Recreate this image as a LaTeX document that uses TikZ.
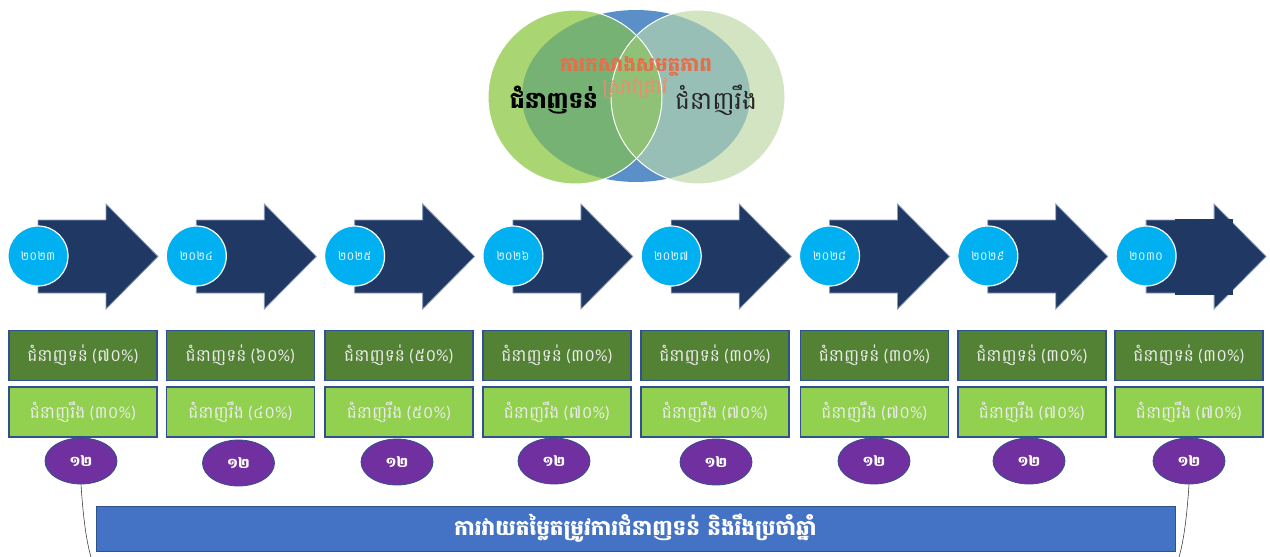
\documentclass[tikz,border=0pt]{standalone}
\usetikzlibrary{shapes.geometric}
\usepackage{fontspec}
\setmainfont{Carlito}
\newfontfamily\km[Script=Khmer]{Battambang}
\definecolor{navy}{HTML}{203864}
\definecolor{navyedge}{HTML}{8C9BBA}
\definecolor{cyanc}{HTML}{00B0F0}
\definecolor{dkgreen}{HTML}{548235}
\definecolor{ltgreen}{HTML}{92D050}
\definecolor{boxedge}{HTML}{2F528F}
\definecolor{purp}{HTML}{7030A0}
\definecolor{barblue}{HTML}{4472C4}
\definecolor{vblue}{HTML}{5A8FC8}
\definecolor{LO}{HTML}{A9D673}
\definecolor{LB}{HTML}{76B274}
\definecolor{RO}{HTML}{D3E4C2}
\definecolor{RB}{HTML}{98BFB5}
\definecolor{LENS}{HTML}{8FC276}
\definecolor{orangetx}{HTML}{E2704C}
\definecolor{boxtx}{HTML}{EAEAEA}
\newcommand\pct[2]{{\km #1} ({\km #2}\%)}
\begin{document}
\begin{tikzpicture}[x=1pt,y=-1pt,
  arrowbody/.style={fill=navy,draw=navyedge,line width=0.8pt,line join=miter},
  yearc/.style={circle,fill=cyanc,draw=white,line width=1.2pt,minimum size=60pt,inner sep=0pt,text=white!92!cyanc,font=\km\fontsize{12}{14}\selectfont},
  topbox/.style={rectangle,fill=dkgreen,draw=boxedge,line width=1.1pt,minimum width=148pt,minimum height=50pt,inner sep=0pt,text=boxtx,font=\fontsize{17}{19}\selectfont},
  botbox/.style={topbox,fill=ltgreen},
  numell/.style={ellipse,fill=purp,draw=boxedge,line width=0.8pt,minimum width=72pt,minimum height=46pt,inner sep=0pt,text=white,font=\km\bfseries\fontsize{14}{16}\selectfont},
  bar/.style={rectangle,fill=barblue,draw=boxedge,line width=1pt,minimum width=1079pt,minimum height=45pt,inner sep=0pt,text=white,font=\km\bfseries\fontsize{21.5}{24}\selectfont},
  conn/.style={draw=black!75,line width=0.6pt},
  venntx/.style={inner sep=0pt,font=\km\fontsize{25}{28}\selectfont}
]
\useasboundingbox (0,0) rectangle (1270,557);
% ---------- Venn diagram ----------
\fill[vblue] (636,96) ellipse[x radius=114pt,y radius=86pt];
\fill[LO] (575,97) circle[radius=87pt];
\fill[RO] (698,97) circle[radius=87pt];
\begin{scope}
  \clip (636,96) ellipse[x radius=114pt,y radius=86pt];
  \fill[LB] (575,97) circle[radius=87pt];
  \fill[RB] (698,97) circle[radius=87pt];
  \clip (575,97) circle[radius=87pt];
  \fill[LENS] (698,97) circle[radius=87pt];
\end{scope}
\draw[white,line width=1pt] (575,97) circle[radius=87pt];
\draw[white,line width=1pt] (698,97) circle[radius=87pt];
\node[venntx,text=orangetx,font=\km\bfseries\fontsize{20}{22}\selectfont] (cap1) at (636,66) {ការកសាងសមត្ថភាព};
\node[venntx,text=orangetx!80,font=\km\fontsize{20}{22}\selectfont] (cap2) at (635,88) {ស្រាវជ្រាវ};
\node[venntx,font=\km\bfseries\fontsize{23}{26}\selectfont] (soft) at (554,100) {ជំនាញទន់};
\node[venntx,text=black!85] (hard) at (716,100) {ជំនាញរឹង};
% ---------- Arrows with years ----------
\foreach \i/\yr in {0/២០២៣,1/២០២៤,2/២០២៥,3/២០២៦,4/២០២៧,5/២០២៨,6/២០២៩,7/២០៣០}{
  \pgfmathsetmacro\xx{38+158.3*\i}
  \draw[arrowbody] (\xx,220) -- (\xx+68,220) -- (\xx+68,204) -- (\xx+120,256.5)
     -- (\xx+68,309) -- (\xx+68,293) -- (\xx,293) -- cycle;
  \ifnum\i=7
    \fill[navy] (1175,219) rectangle (1233,295);
  \fi
  \node[yearc] (yr\i) at (\xx,256) {\yr};
}
% ---------- Percentage boxes ----------
\foreach \i/\cx/\s/\h in {1/83/៧០/៣០,2/240.5/៦០/៤០,3/399/៥០/៥០,4/557/៣០/៧០,5/715/៣០/៧០,6/874.5/៣០/៧០,7/1032/៣០/៧០,8/1189/៣០/៧០}{
  \node[topbox] (t\i) at (\cx,355.5) {\pct{ជំនាញទន់}{\s}};
  \node[botbox] (b\i) at (\cx,412) {\pct{ជំនាញរឹង}{\h}};
}
% ---------- Ellipses ----------
\foreach \i/\cx/\cy in {1/81/461,2/238.5/463,3/397/462,4/554/461,5/716/462,6/874/461,7/1029/461,8/1189/461}{
  \node[numell] (e\i) at (\cx,\cy) {១២};
}
% ---------- Bottom bar ----------
\node[bar] (bar) at (635.5,528.5) {ការវាយតម្លៃតម្រូវការជំនាញទន់ និងរឹងប្រចាំឆ្នាំ};
% ---------- Connectors ----------
\coordinate (cl) at (91,557);
\coordinate (cr) at (1179,557);
\draw[conn] (b1.south -| e1.north) -- (e1.north);
\draw[conn] (e1.south) .. controls (83,515) and (86,540) .. (cl);
\draw[conn] (b8.south -| e8.north) -- (e8.north);
\draw[conn] (e8.south) .. controls (1187,515) and (1184,540) .. (cr);
\end{tikzpicture}
\end{document}
